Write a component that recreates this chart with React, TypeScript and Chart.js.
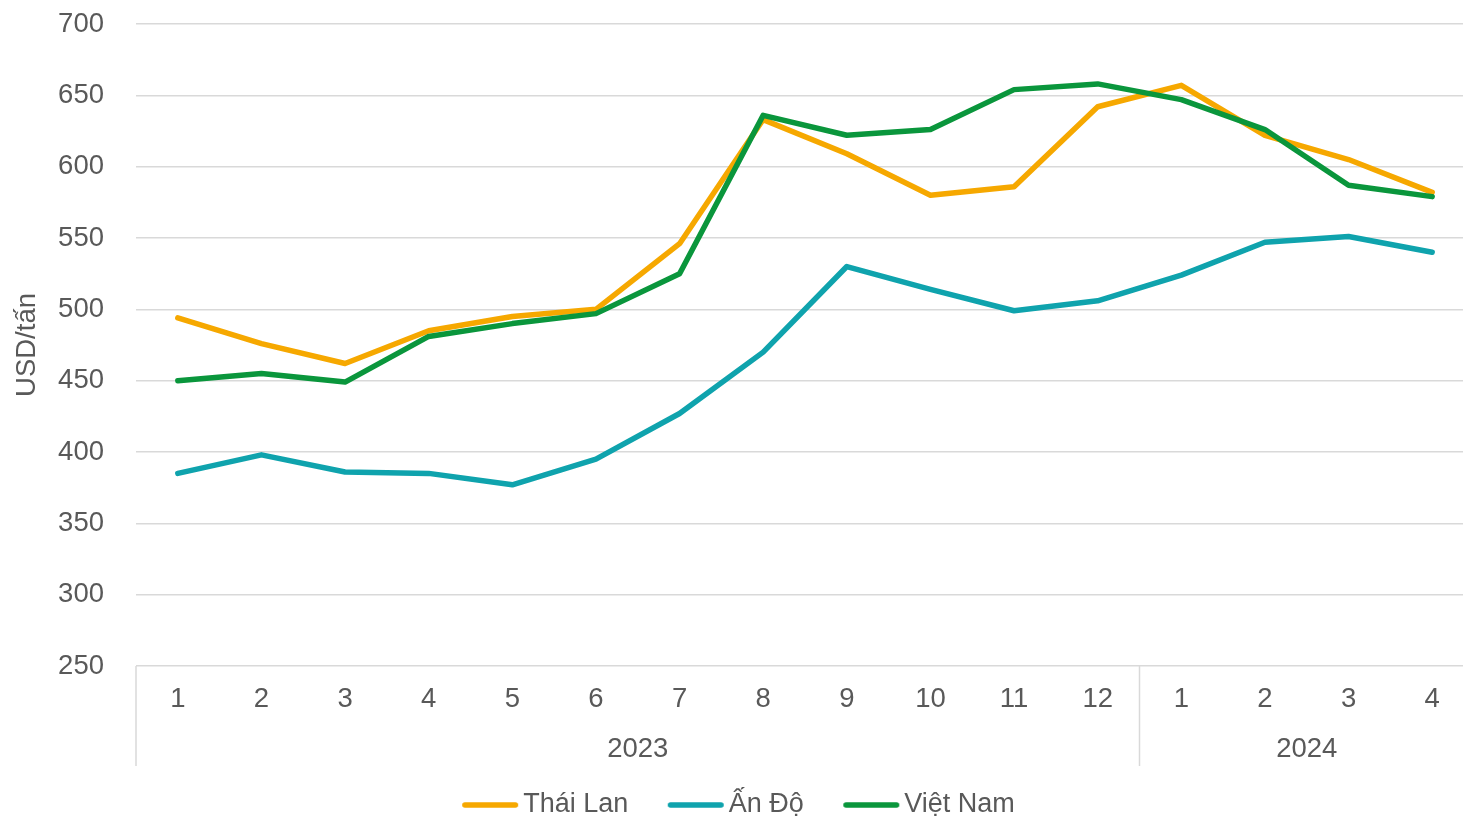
import React, { useEffect, useRef } from 'react';
import { Chart, registerables } from 'chart.js';

Chart.register(...registerables);

const months = ['1', '2', '3', '4', '5', '6', '7', '8', '9', '10', '11', '12', '1', '2', '3', '4'];
const years = ['2023', '2024'];
const yearSpans = [12, 4];

const thaiLan = [494, 476, 462, 485, 495, 500, 546, 633, 609, 580, 586, 642, 657, 622, 605, 582];
const anDo = [385, 398, 386, 385, 377, 395, 427, 470, 530, 514, 499, 506, 524, 547, 551, 540];
const vietNam = [450, 455, 449, 481, 490, 497, 525, 636, 622, 626, 654, 658, 647, 626, 587, 579];

const seriesNames = ['Thái Lan', 'Ấn Độ', 'Việt Nam'];
const seriesColors = ['#F6A800', '#0FA3AD', '#0A963C'];
const seriesOrder = [1, 1, 0];

const yMin = 250;
const yMax = 700;
const yStep = 50;
const yTitle = 'USD/tấn';

const FONT = '"Liberation Sans", Arial, sans-serif';
const TEXT = '#595959';
const GRID = '#D9D9D9';

function makeLegendImage(color: string) {
  const c = document.createElement('canvas');
  c.width = 58;
  c.height = 8;
  const g = c.getContext('2d')!;
  g.strokeStyle = color;
  g.lineWidth = 5.5;
  g.lineCap = 'round';
  g.beginPath();
  g.moveTo(3.75, 4);
  g.lineTo(54.25, 4);
  g.stroke();
  return c;
}

const yearPlugin = {
  id: 'yearGroups',
  afterDraw(chart: any) {
    const { ctx, chartArea } = chart;
    const xs = chart.scales.x;
    const cell = (chartArea.right - chartArea.left) / months.length;
    ctx.save();
    ctx.strokeStyle = GRID;
    ctx.lineWidth = 1.5;
    ctx.fillStyle = TEXT;
    ctx.font = '27.5px ' + FONT;
    ctx.textAlign = 'center';
    ctx.textBaseline = 'middle';
    let start = 0;
    years.forEach((yr, gi) => {
      const end = start + yearSpans[gi] - 1;
      const xl = xs.getPixelForValue(start) - cell / 2;
      const xr = xs.getPixelForValue(end) + cell / 2;
      ctx.beginPath();
      ctx.moveTo(xl, chartArea.bottom);
      ctx.lineTo(xl, chartArea.bottom + 100);
      ctx.stroke();
      if (gi === years.length - 1) {
        ctx.beginPath();
        ctx.moveTo(xr, chartArea.bottom);
        ctx.lineTo(xr, chartArea.bottom + 100);
        ctx.stroke();
      }
      ctx.fillText(yr, (xl + xr) / 2, chartArea.bottom + 83);
      start = end + 1;
    });
    ctx.restore();
  },
};

export default function App() {
  const ref = useRef<HTMLCanvasElement | null>(null);

  useEffect(() => {
    if (!ref.current) return;
    const legendImgs = seriesColors.map(makeLegendImage);
    const seriesData = [thaiLan, anDo, vietNam];
    const chart = new Chart(ref.current, {
      type: 'line',
      data: {
        labels: months,
        datasets: seriesNames.map((name, i) => ({
          label: name,
          data: seriesData[i],
          borderColor: seriesColors[i],
          backgroundColor: seriesColors[i],
          borderWidth: 5.5,
          borderCapStyle: 'round',
          borderJoinStyle: 'round',
          pointRadius: 0,
          pointHoverRadius: 0,
          tension: 0,
          fill: false,
          order: seriesOrder[i],
        })),
      },
      options: {
        responsive: false,
        animation: false,
        devicePixelRatio: 1,
        events: [],
        layout: { padding: { left: 11.5, right: 6, top: 24, bottom: 1.5 } },
        scales: {
          x: {
            type: 'category',
            offset: true,
            grid: { display: false, drawTicks: false },
            border: { display: false },
            ticks: {
              padding: 17,
              color: TEXT,
              font: { size: 27.5, family: FONT },
              maxRotation: 0,
              autoSkip: false,
            },
            afterFit: (s: any) => {
              s.height = 77.5;
            },
          },
          y: {
            min: yMin,
            max: yMax,
            grid: {
              color: GRID,
              lineWidth: 1.5,
              drawTicks: true,
              tickLength: 32,
              tickColor: 'rgba(0,0,0,0)',
            },
            border: { display: false },
            ticks: {
              stepSize: yStep,
              padding: 0,
              color: TEXT,
              font: { size: 27.5, family: FONT },
            },
            title: {
              display: true,
              text: yTitle,
              color: TEXT,
              font: { size: 27.5, family: FONT, lineHeight: 1 },
              padding: { top: 2.5, bottom: 0 },
            },
            afterFit: (s: any) => {
              s.width = 124.5;
            },
          },
        },
        plugins: {
          tooltip: { enabled: false },
          legend: {
            position: 'bottom',
            labels: {
              usePointStyle: true,
              pointStyleWidth: 39,
              padding: 48,
              color: TEXT,
              font: { size: 27, family: FONT },
              sort: (a: any, b: any) => a.datasetIndex - b.datasetIndex,
              generateLabels: (c: any) => {
                const items = (Chart.defaults.plugins.legend.labels as any).generateLabels(c);
                return items.map((it: any) => ({ ...it, pointStyle: legendImgs[it.datasetIndex] }));
              },
            },
          },
        },
      },
      plugins: [yearPlugin],
    } as any);
    return () => chart.destroy();
  }, []);

  return (
    <div
      style={{
        position: 'fixed',
        left: 0,
        top: 0,
        width: 1463,
        height: 817,
        overflow: 'hidden',
        background: '#fff',
      }}
    >
      <canvas ref={ref} width={1480} height={830} style={{ display: 'block' }} />
    </div>
  );
}
